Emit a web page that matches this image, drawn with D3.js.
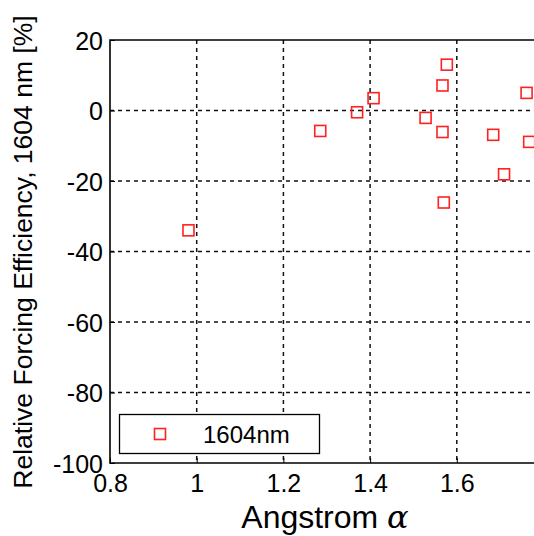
<!DOCTYPE html>
<html>
<head>
  <meta charset="UTF-8" />
  <title>Relative Forcing Efficiency vs Angstrom</title>
  <script src="https://cdn.jsdelivr.net/npm/d3@7"></script>
  <style>
    body { margin: 0; background: #fff; }
    svg text { font-family: Arial, 'Liberation Sans', Helvetica, sans-serif; fill: #000; }
  </style>
</head>
<body>
  <svg id="chart" width="534" height="536"></svg>
  <script>
    // data
    const angstrom = [0.981, 1.285, 1.370, 1.408, 1.528, 1.567, 1.567, 1.570, 1.577, 1.684, 1.709, 1.761, 1.767];
    const efficiency = [-34.0, -5.8, -0.5, 3.5, -2.1, 7.1, -6.1, -26.1, 13.0, -6.9, -18.1, 5.0, -8.9];
    const xTicks = [0.8, 1, 1.2, 1.4, 1.6];
    const yTicks = [20, 0, -20, -40, -60, -80, -100];
    const seriesName = '1604nm';

    const margin = { left: 110, top: 40 },
      plotW = 433.5,
      plotH = 423;

    const svg = d3.select('#chart');

    const x = d3.scaleLinear().domain([0.8, 1.8]).range([margin.left, margin.left + plotW]);
    const y = d3.scaleLinear().domain([-100, 20]).range([margin.top + plotH, margin.top]);

    // grid
    const grid = svg.append('g').attr('stroke', '#111').attr('stroke-width', 1.5).attr('stroke-dasharray', '4,4');
    grid.selectAll('.gx')
      .data(xTicks.filter(d => d > 0.8))
      .enter().append('line')
      .attr('x1', d => x(d)).attr('x2', d => x(d))
      .attr('y1', y(20)).attr('y2', y(-100));
    grid.selectAll('.gy')
      .data(yTicks.filter(d => d > -100 && d < 20))
      .enter().append('line')
      .attr('x1', x(0.8)).attr('x2', x(1.8))
      .attr('y1', d => y(d)).attr('y2', d => y(d));

    // axes (plain hyphen for negatives, as in the original)
    const fmt = d => String(d);
    const xAxis = svg.append('g')
      .attr('transform', 'translate(0,' + y(-100) + ')')
      .call(d3.axisBottom(x).tickValues(xTicks).tickSize(-5).tickPadding(11).tickFormat(fmt));
    const yAxis = svg.append('g')
      .attr('transform', 'translate(' + x(0.8) + ',0)')
      .call(d3.axisLeft(y).tickValues(yTicks).tickSize(-5).tickPadding(7).tickFormat(fmt));

    [xAxis, yAxis].forEach(a => {
      a.select('.domain').remove();
      a.selectAll('.tick line').attr('stroke', '#000').attr('stroke-width', 1);
      a.selectAll('.tick text').attr('font-size', 25).style('fill', '#000');
    });
    xAxis.selectAll('.tick text').attr('dy', '0.71em');
    yAxis.selectAll('.tick text').attr('dy', '0.36em');

    // frame
    svg.append('path')
      .attr('d', 'M' + x(1.8) + ',' + y(20) + 'H' + x(0.8) + 'V' + y(-100) + 'H' + x(1.8))
      .attr('fill', 'none').attr('stroke', '#000').attr('stroke-width', 1.6);

    // points
    const side = 11;
    svg.append('g')
      .selectAll('rect')
      .data(angstrom.map((a, i) => [a, efficiency[i]]))
      .enter().append('rect')
      .attr('x', d => x(d[0]) - side / 2)
      .attr('y', d => y(d[1]) - side / 2)
      .attr('width', side).attr('height', side)
      .attr('fill', 'none').attr('stroke', '#ff2020').attr('stroke-width', 1.6);

    // legend
    const legend = svg.append('g');
    legend.append('rect')
      .attr('x', 119.5).attr('y', 414.5).attr('width', 200).attr('height', 39)
      .attr('fill', '#fff').attr('stroke', '#000').attr('stroke-width', 1.3);
    legend.append('rect')
      .attr('x', 160 - side / 2).attr('y', 434 - side / 2)
      .attr('width', side).attr('height', side)
      .attr('fill', 'none').attr('stroke', '#ff2020').attr('stroke-width', 1.6);
    legend.append('text')
      .attr('x', 203).attr('y', 443)
      .attr('font-size', 24)
      .text(seriesName);

    // axis labels
    const xLabel = svg.append('text')
      .attr('x', 325).attr('y', 528)
      .attr('text-anchor', 'middle')
      .attr('font-size', 32);
    xLabel.append('tspan').text('Angstrom ');
    xLabel.append('tspan').attr('font-style', 'italic').attr('font-family', "'DejaVu Serif', serif").text('α');

    svg.append('text')
      .attr('transform', 'translate(32,252) rotate(-90)')
      .attr('text-anchor', 'middle')
      .attr('font-size', 26.5)
      .text('Relative Forcing Efficiency, 1604 nm [%]');
  </script>
</body>
</html>
